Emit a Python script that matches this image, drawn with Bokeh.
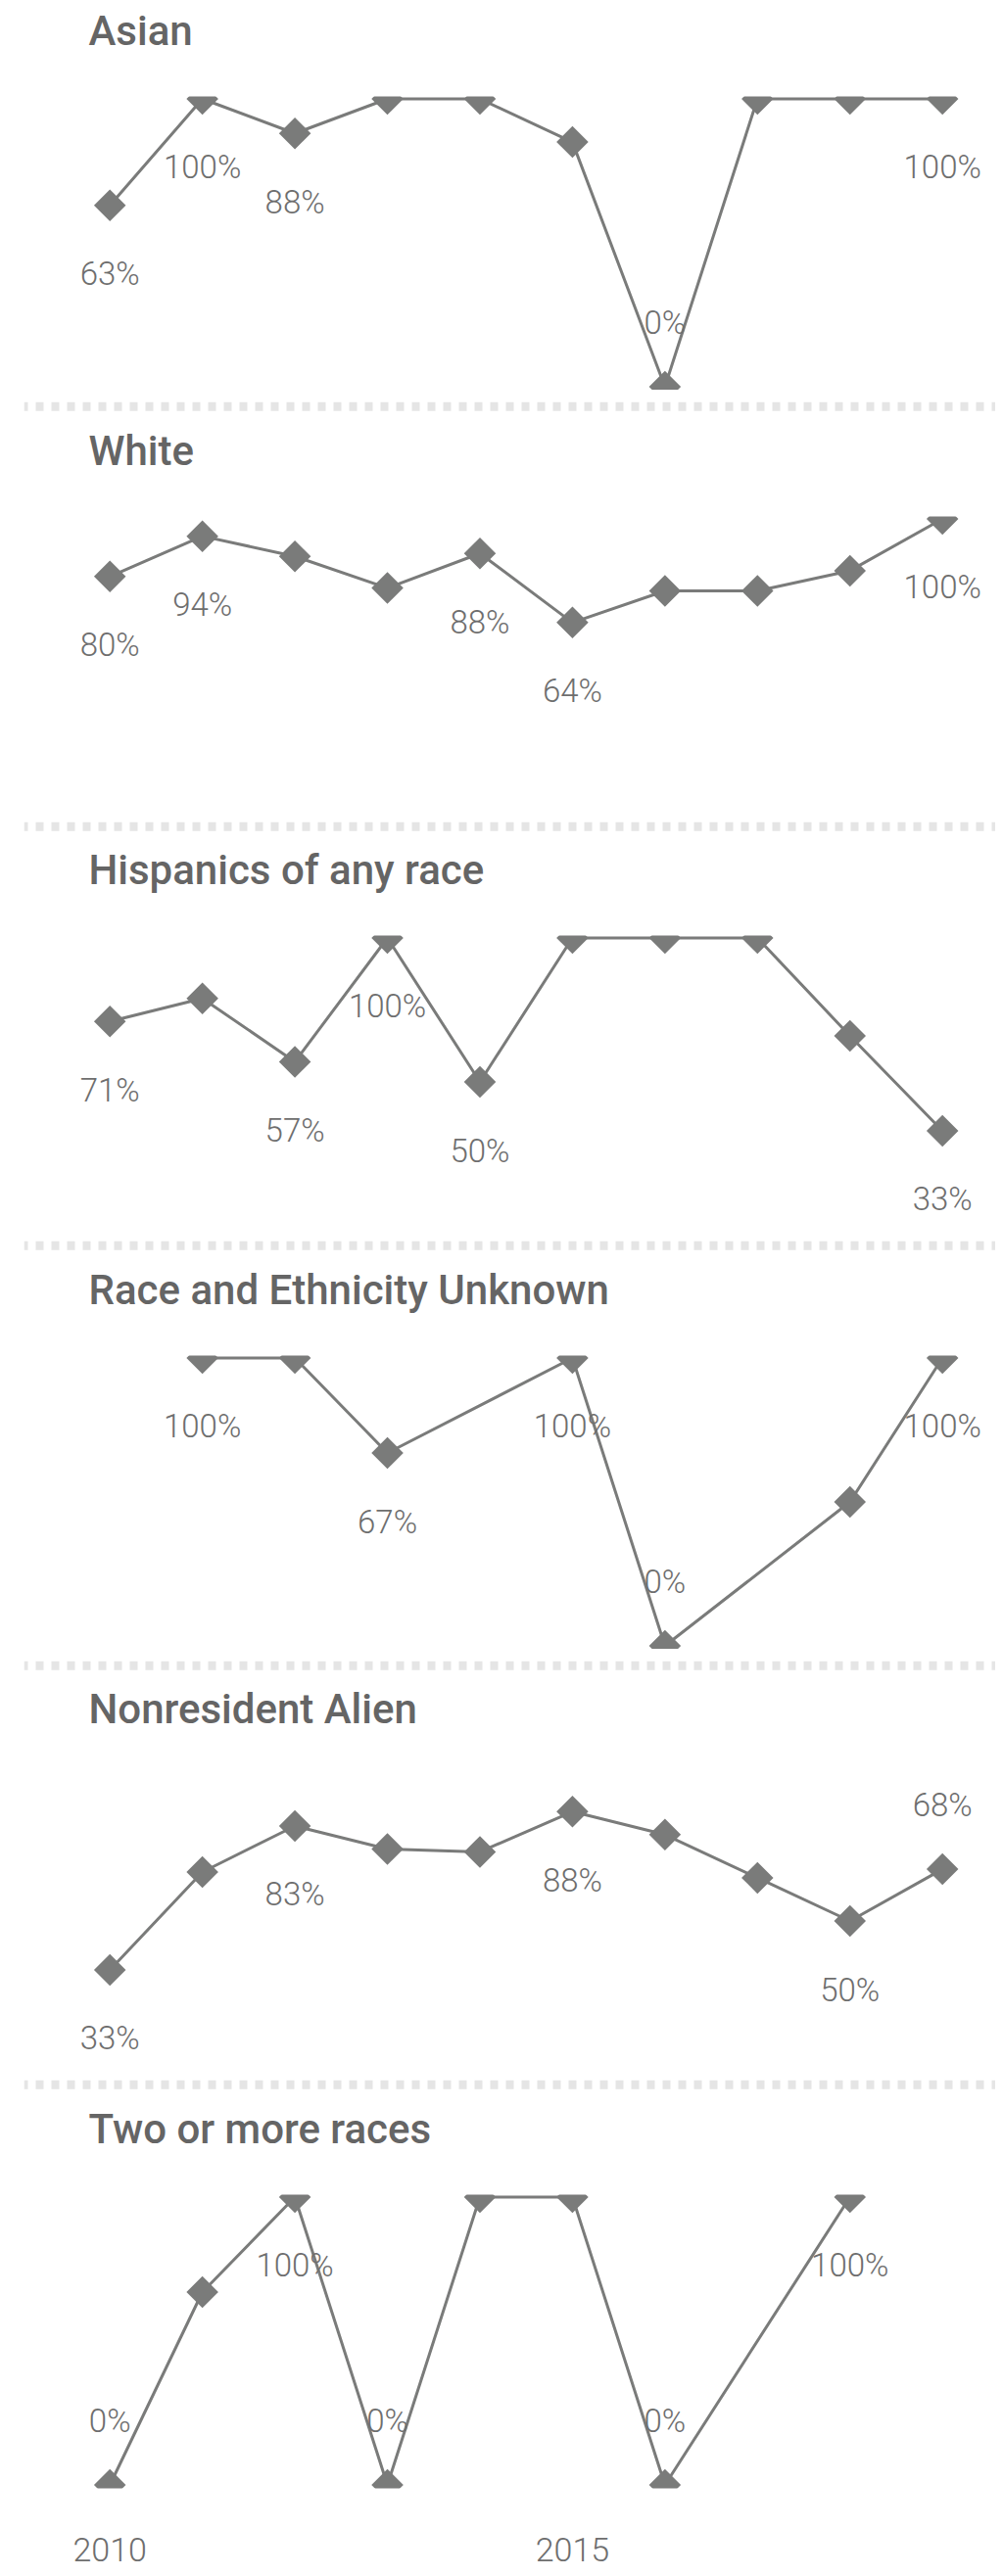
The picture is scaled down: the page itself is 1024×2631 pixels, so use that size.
import numpy as np
from bokeh.plotting import figure
from bokeh.layouts import column
from bokeh.models import Range1d, Span, FixedTicker, ColumnDataSource
from bokeh.core.properties import value
from bokeh.embed import file_html
from bokeh.resources import INLINE

# ---------------- data ----------------
years = [2010, 2011, 2012, 2013, 2014, 2015, 2016, 2017, 2018, 2019]
titles = ["Asian", "White", "Hispanics of any race", "Race and Ethnicity Unknown",
          "Nonresident Alien", "Two or more races"]

asian = [0.63, 1.00, 0.88, 1.00, 1.00, 0.85, 0.00, 1.00, 1.00, 1.00]
white = [0.80, 0.94, 0.87, 0.76, 0.88, 0.64, 0.75, 0.75, 0.82, 1.00]
hispanic = [0.71, 0.79, 0.57, 1.00, 0.50, 1.00, 1.00, 1.00, 0.66, 0.33]
unknown = [None, 1.00, 1.00, 0.67, None, 1.00, 0.00, None, 0.50, 1.00]
nonresident = [0.33, 0.67, 0.83, 0.75, 0.74, 0.88, 0.80, 0.65, 0.50, 0.68]
two_or_more = [0.00, 0.67, 1.00, 0.00, 1.00, 1.00, 0.00, None, 1.00, None]

series = [asian, white, hispanic, unknown, nonresident, two_or_more]

# which points carry a value label, and which of those sit above the point
labeled = [[0, 1, 2, 6, 9], [0, 1, 4, 5, 9], [0, 2, 3, 4, 9],
           [1, 3, 5, 6, 9], [0, 2, 5, 8, 9], [0, 2, 3, 6, 8]]
above = [[6], [], [], [6], [9], [0, 3, 6]]

x_ticks = [2010, 2015, 2020]

# ---------------- style ----------------
LINE = "#7a7b7a"
TEXT = "#6e6e6e"
TITLE = "#656565"
SEP = "#e5e5e5"
FONT = "Roboto"

W = 1016
X0, X1 = 2009.0714, 2019.575
Y0, Y1 = -0.0119, 1.0085
header_heights = [98, 129, 128, 129, 128, 129]
BOTTOM_LAST = 90


def bare(height, y_range, bottom=0, axis=False):
    f = figure(width=W, height=height, x_range=Range1d(X0, X1), y_range=y_range,
               output_backend="svg", toolbar_location=None, tools="",
               min_border_left=24, min_border_right=0, min_border_top=0,
               min_border_bottom=bottom,
               x_axis_location="below" if axis else None, y_axis_location=None,
               outline_line_color=None, background_fill_color="white",
               border_fill_color="white")
    f.xgrid.grid_line_color = None
    f.ygrid.grid_line_color = None
    return f


items = []
n = len(titles)
for i, (t, vals) in enumerate(zip(titles, series)):
    last = i == n - 1

    # header: dotted separator (except first) + panel title
    hh = header_heights[i]
    hd = bare(hh, Range1d(0, hh))
    if i > 0:
        hd.add_layout(Span(location=hh - 16.7, dimension="width", line_color=SEP,
                           line_width=9, line_dash="8 8", line_dash_offset=4))
    hd.text(x=[X0], y=[67], text=[t], x_offset=66, text_align="left",
            text_baseline="alphabetic", text_font=value(FONT),
            text_font_size="500 42px", text_color=TITLE)
    items.append(hd)

    # panel
    bottom = BOTTOM_LAST if last else 0
    p = bare(300 + bottom, Range1d(Y0, Y1), bottom=bottom, axis=last)

    xs = [x for x, v in zip(years, vals) if v is not None]
    ys = [v for v in vals if v is not None]
    src = ColumnDataSource(dict(x=xs, y=ys))
    p.line("x", "y", source=src, line_color=LINE, line_width=3)
    p.scatter("x", "y", source=src, marker="square", angle=np.pi / 4, size=23,
              fill_color=LINE, line_color=None)

    lx = [years[k] for k in labeled[i]]
    ly = [vals[k] for k in labeled[i]]
    lt = [f"{round(vals[k] * 100)}%" for k in labeled[i]]
    lo = [-66 if k in above[i] else 70 for k in labeled[i]]
    lsrc = ColumnDataSource(dict(x=lx, y=ly, text=lt, off=lo))
    p.text("x", "y", text="text", y_offset="off", source=lsrc,
           text_align="center", text_baseline="middle",
           text_font=value(FONT), text_font_size="300 33px", text_color=TEXT)

    if last:
        ax = p.xaxis[0]
        ax.ticker = FixedTicker(ticks=x_ticks)
        ax.axis_line_color = None
        ax.major_tick_line_color = None
        ax.minor_tick_line_color = None
        ax.major_tick_out = 0
        ax.major_tick_in = 0
        ax.major_label_standoff = 50
        ax.major_label_text_font = FONT
        ax.major_label_text_font_size = "300 34px"
        ax.major_label_text_color = TEXT
    items.append(p)

layout = column(*items, spacing=0)
open("out.html", "w").write(file_html(layout, INLINE))
